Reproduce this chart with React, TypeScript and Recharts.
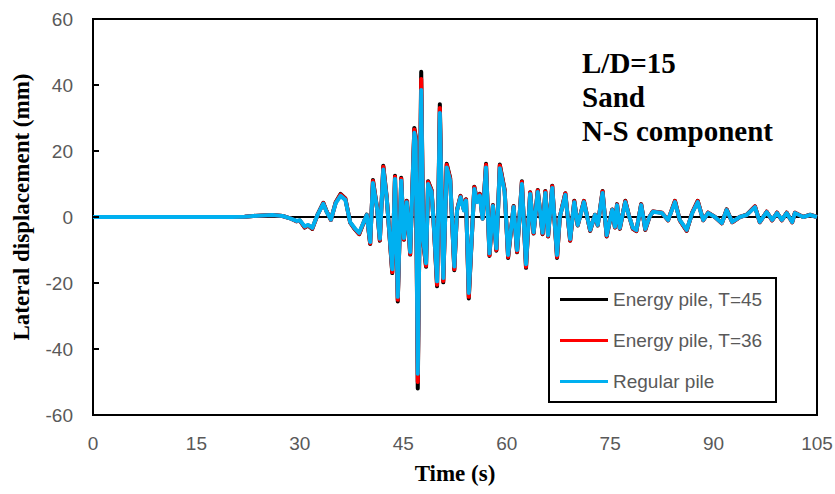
import { LineChart, Line, XAxis, YAxis, ReferenceLine, ReferenceArea, Legend, Label } from 'recharts'

// time (s) and lateral displacement (mm)
const time = [
  0, 10, 20, 22, 24, 26, 27.5, 28.6, 29.5, 30.0,
  30.7, 31.2, 31.8, 32.6, 33.4, 33.9, 34.5, 35.2, 35.9, 36.6,
  37.3, 38.0, 38.6, 39.2, 39.7, 40.2, 40.6, 41.2, 41.6, 42.1,
  42.6, 43.4, 43.8, 44.2, 44.7, 45.1, 45.5, 46.0, 46.6, 46.8,
  47.1, 47.6, 47.9, 48.3, 48.6, 49.1, 49.4, 49.9, 50.3, 50.8,
  51.3, 51.8, 52.4, 52.8, 53.3, 53.8, 54.1, 54.5, 55.3, 55.7,
  56.1, 56.5, 57.0, 57.5, 58.0, 58.5, 59.0, 59.7, 60.2, 61.0,
  61.5, 62.2, 62.8, 63.4, 63.9, 64.5, 65.2, 65.6, 66.0, 66.6,
  67.3, 67.7, 68.5, 69.2, 69.8, 70.3, 71.2, 72.1, 72.8, 73.2,
  73.9, 74.5, 75.3, 75.7, 76.0, 76.4, 77.2, 77.7, 78.3, 78.8,
  79.5, 80.1, 80.7, 81.2, 82.5, 83.4, 84.4, 85.1, 86.1, 86.9,
  87.7, 88.5, 89.2, 90.2, 91.2, 91.9, 92.7, 93.8, 94.8, 96.0,
  96.7, 97.7, 98.5, 99.2, 99.9, 100.6, 101.4, 101.8, 103.0, 104.0,
  105,
]

const regularPile = [
  0, 0, 0, 0.1, 0.4, 0.6, 0.3, -0.4, -1.2, -1.0,
  -2.9, -2.4, -3.3, 0.8, 4.0, 1.5, -0.8, 4.2, 6.4, 5.2,
  -1.6, -3.5, -4.8, -1.8, 0.6, -7.6, 10.3, 2.5, -6.6, 14.4,
  5.5, -15.8, 11.5, -24.2, 11.0, -6.4, 4.5, -10.6, 25.5, 23.0,
  -47.5, 38.5, -7.0, -14.0, 10.0, 7.6, -1.5, -19.5, 31.5, -18.5,
  15.0, 11.0, -15.0, 2.0, 6.0, 2.0, 5.0, -23.0, 8.5, 4.5,
  6.5, -0.5, 15.0, -11.0, 3.3, -9.5, 14.8, 7.6, -11.5, 3.0,
  -10.0, 10.0, -14.3, 7.0, -4.6, 7.6, -4.8, 7.3, -5.5, 8.8,
  -11.5, 0, 6.7, -6.7, 4.5, -2.4, 4.5, -3.9, 0.6, -2.4,
  7.3, -5.5, 2.1, -3.0, 3.6, -3.3, 4.5, 0.6, -3.3, -4.0,
  3.6, -3.6, 0, 1.6, 1.2, -0.9, 4.5, -0.9, -3.9, 1.2,
  4.5, -0.9, 1.2, 0, -1.8, 2.1, -1.5, 0, 0.6, 3.0,
  -1.5, 1.5, -0.9, 1.2, -0.9, 1.2, -1.5, 1.2, 0, 0.6,
  0,
]

const energyPile36 = [
  0, 0, 0, 0.1, 0.4, 0.6, 0.3, -0.4, -1.3, -1.1,
  -3.1, -2.5, -3.5, 0.8, 4.2, 1.6, -0.9, 4.4, 6.8, 5.5,
  -1.7, -3.7, -5.1, -1.9, 0.6, -8.0, 10.9, 2.6, -7.0, 15.2,
  5.8, -16.7, 12.2, -25.1, 11.6, -6.8, 4.8, -11.2, 26.5, 24.0,
  -50.0, 41.8, -7.4, -14.8, 10.6, 8.0, -1.6, -20.5, 33.0, -19.4,
  15.8, 11.6, -15.8, 2.1, 6.3, 2.1, 5.3, -24.2, 9.0, 4.8,
  6.9, -0.5, 15.8, -11.6, 3.5, -10.0, 15.6, 8.0, -12.1, 3.2,
  -10.5, 10.6, -15.1, 7.4, -4.9, 8.0, -5.1, 7.7, -5.8, 9.3,
  -12.1, 0, 7.1, -7.1, 4.8, -2.5, 4.8, -4.1, 0.6, -2.5,
  7.7, -5.8, 2.2, -3.2, 3.8, -3.5, 4.8, 0.6, -3.5, -4.2,
  3.8, -3.8, 0, 1.7, 1.3, -1.0, 4.8, -1.0, -4.1, 1.3,
  4.8, -1.0, 1.3, 0, -1.9, 2.2, -1.6, 0, 0.6, 3.2,
  -1.6, 1.6, -1.0, 1.3, -1.0, 1.3, -1.6, 1.3, 0, 0.6,
  0,
]

const energyPile45 = [
  0, 0, 0, 0.1, 0.4, 0.6, 0.3, -0.4, -1.3, -1.1,
  -3.2, -2.6, -3.6, 0.9, 4.3, 1.6, -0.9, 4.5, 7.0, 5.6,
  -1.7, -3.8, -5.2, -2.0, 0.7, -8.2, 11.2, 2.7, -7.2, 15.5,
  5.9, -17.0, 12.5, -25.6, 11.9, -6.9, 4.9, -11.4, 27.0, 24.4,
  -52.0, 44.0, -7.6, -15.1, 10.8, 8.2, -1.6, -21.0, 34.2, -19.8,
  16.1, 11.8, -16.1, 2.2, 6.4, 2.2, 5.4, -24.7, 9.2, 4.9,
  7.0, -0.5, 16.1, -11.8, 3.6, -10.2, 15.9, 8.2, -12.4, 3.3,
  -10.7, 10.8, -15.4, 7.5, -5.0, 8.2, -5.2, 7.9, -5.9, 9.5,
  -12.4, 0, 7.2, -7.2, 4.9, -2.6, 4.9, -4.2, 0.7, -2.6,
  7.9, -5.9, 2.3, -3.2, 3.9, -3.6, 4.9, 0.7, -3.6, -4.3,
  3.9, -3.9, 0, 1.7, 1.3, -1.0, 4.9, -1.0, -4.2, 1.3,
  4.9, -1.0, 1.3, 0, -1.9, 2.3, -1.6, 0, 0.7, 3.2,
  -1.6, 1.6, -1.0, 1.3, -1.0, 1.3, -1.6, 1.3, 0, 0.7,
  0,
]

const seriesNames = ['Energy pile, T=45', 'Energy pile, T=36', 'Regular pile']
const xTicks = [0, 15, 30, 45, 60, 75, 90, 105]
const yTicks = [-60, -40, -20, 0, 20, 40, 60]
const notes = ['L/D=15', 'Sand', 'N-S component']

const data = time.map((t, i) => ({
  t,
  e45: energyPile45[i],
  e36: energyPile36[i],
  reg: regularPile[i],
}))

const sans = '"Liberation Sans", Arial, sans-serif'
const serif = '"Liberation Serif", "Times New Roman", serif'
const grey = '#595959'

function YTick({ x, y, payload }: any) {
  return (
    <g>
      <line x1={x + 20} x2={x + 26} y1={y} y2={y} stroke="#000" strokeWidth={2} />
      <text x={x} y={y} dy="0.35em" textAnchor="end" fill={grey} fontSize={19} fontFamily={sans}>
        {payload.value}
      </text>
    </g>
  )
}

function LegendBox({ payload }: any) {
  const items = [...(payload || [])].sort(
    (a: any, b: any) => seriesNames.indexOf(a.value) - seriesNames.indexOf(b.value),
  )
  return (
    <div
      style={{
        width: 229,
        height: 126,
        border: '2px solid #000',
        boxSizing: 'border-box',
        background: '#fff',
        paddingLeft: 10,
      }}
    >
      {items.map((entry: any) => (
        <div key={entry.value} style={{ display: 'flex', alignItems: 'center', height: 41 }}>
          <span style={{ display: 'inline-block', width: 48, height: 3, background: entry.color, marginRight: 5 }} />
          <span style={{ color: grey, fontSize: 19, fontFamily: sans, lineHeight: '20px' }}>{entry.value}</span>
        </div>
      ))}
    </div>
  )
}

export default function App() {
  return (
    <div style={{ position: 'absolute', left: 0, top: 0, width: 835, height: 494, background: '#fff' }}>
      <LineChart width={835} height={494} data={data} margin={{ top: 19, right: 18, left: 0, bottom: 0 }}>
        <XAxis
          dataKey="t"
          type="number"
          domain={[0, 105]}
          ticks={xTicks}
          interval={0}
          axisLine={false}
          tickLine={false}
          tickSize={22}
          tickMargin={0}
          height={79}
          tick={{ fill: grey, fontSize: 19, fontFamily: sans }}
        >
          <Label value="Time (s)" position="insideBottom" offset={13} fill="#000" fontSize={23} fontWeight="bold" fontFamily={serif} />
        </XAxis>
        <YAxis
          type="number"
          domain={[-60, 60]}
          ticks={yTicks}
          interval={0}
          axisLine={false}
          tickLine={false}
          tickSize={20}
          tickMargin={0}
          width={93}
          tick={<YTick />}
        >
          <Label
            content={(props: any) => {
              const vb = props.viewBox || { x: 0, y: 19, width: 93, height: 396 }
              const cx = vb.x + 29
              const cy = vb.y + vb.height / 2 - 10
              return (
                <text
                  x={cx}
                  y={cy}
                  transform={`rotate(-90 ${cx} ${cy})`}
                  textAnchor="middle"
                  fill="#000"
                  fontSize={23}
                  fontWeight="bold"
                  fontFamily={serif}
                >
                  Lateral displacement (mm)
                </text>
              )
            }}
          />
        </YAxis>
        <ReferenceLine y={0} stroke="#000" strokeWidth={2} />
        <Line
          dataKey="e45"
          name={seriesNames[0]}
          stroke="#000000"
          strokeWidth={4}
          strokeLinejoin="round"
          dot={false}
          isAnimationActive={false}
        />
        <Line
          dataKey="e36"
          name={seriesNames[1]}
          stroke="#FF0000"
          strokeWidth={4}
          strokeLinejoin="round"
          dot={false}
          isAnimationActive={false}
        />
        <Line
          dataKey="reg"
          name={seriesNames[2]}
          stroke="#00B0F0"
          strokeWidth={4}
          strokeLinejoin="round"
          dot={false}
          isAnimationActive={false}
        />
        <ReferenceArea x1={0} x2={105} y1={-60} y2={60} fill="none" fillOpacity={0} stroke="#000" strokeWidth={2} />
        <Legend
          layout="vertical"
          align="center"
          verticalAlign="middle"
          content={<LegendBox />}
          wrapperStyle={{ left: 548, top: 277, width: 229, height: 126 }}
        />
      </LineChart>
      <div style={{ position: 'absolute', left: 582, top: 46, fontFamily: serif, fontWeight: 'bold', fontSize: 29, lineHeight: '34px', color: '#000' }}>
        {notes.map((n) => (
          <div key={n}>{n}</div>
        ))}
      </div>
    </div>
  )
}
